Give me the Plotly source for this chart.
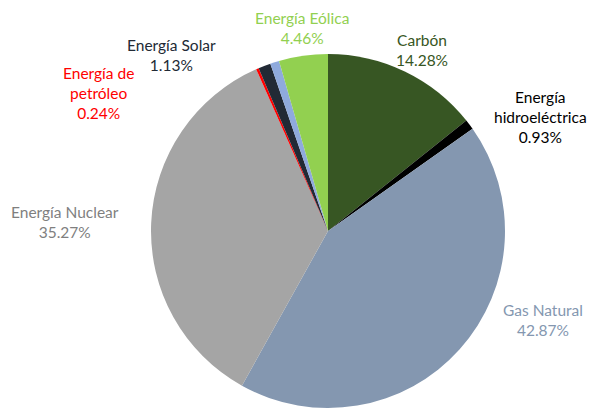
import plotly.graph_objects as go

# Data
categories = ["Carbón", "Energía hidroeléctrica", "Gas Natural", "Energía Nuclear",
              "Energía de petróleo", "Energía Solar", "Otras", "Energía Eólica"]
display_labels = ["Carbón", "Energía<br>hidroeléctrica", "Gas Natural", "Energía Nuclear",
                  "Energía de<br>petróleo", "Energía Solar", "", "Energía Eólica"]
values = [14.28, 0.93, 42.87, 35.27, 0.24, 1.13, 0.82, 4.46]

# Styles
slice_colors = ["#375623", "#000000", "#8497B0", "#A5A5A5", "#FF0000", "#222A35", "#8FAADC", "#92D050"]
text_colors = ["#375623", "#000000", "#8497B0", "#7F7F7F", "#FF0000", "#222A35", "#8FAADC", "#92D050"]
label_pos = [(422, 50), (540, 117), (543, 320), (65, 222), (98, 93), (172, 55), None, (302, 28)]

W, H = 605, 410
OFF = 8  # page body margin compensation
fig = go.Figure(go.Pie(
    labels=categories, values=values, sort=False, direction="clockwise", rotation=0,
    marker=dict(colors=slice_colors, line=dict(width=0)),
    textinfo="none", hoverinfo="label+percent", showlegend=False,
    domain=dict(x=[(151 - OFF) / W, (505 - OFF) / W], y=[1 - (408 - OFF) / H, 1 - (54 - OFF) / H]),
))

annotations = []
for lab, v, c, pos in zip(display_labels, values, text_colors, label_pos):
    if pos is None:
        continue
    annotations.append(dict(
        x=(pos[0] - OFF) / W, y=1 - (pos[1] - OFF) / H, xref="paper", yref="paper",
        text=f"{lab}<br>{v:.2f}%", showarrow=False, xanchor="center", yanchor="middle",
        font=dict(family="Lato", size=15.5, color=c), align="center",
    ))

fig.update_layout(width=W, height=H, margin=dict(l=0, r=0, t=0, b=0),
                  paper_bgcolor="white", plot_bgcolor="white", annotations=annotations)
fig.write_html("out.html")
